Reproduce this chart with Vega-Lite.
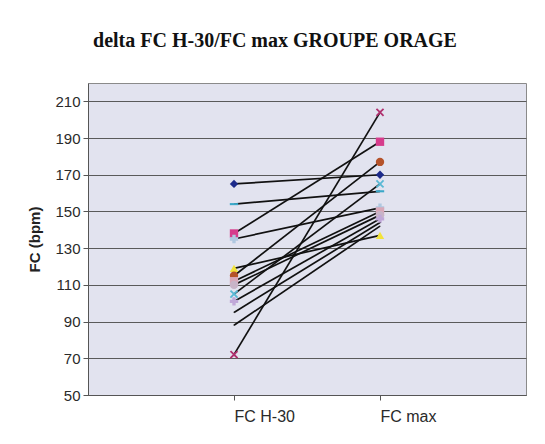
{
  "$schema": "https://vega.github.io/schema/vega-lite/v6.json",
  "width": 438,
  "height": 312,
  "autosize": {"type": "none"},
  "padding": {"left": 88, "top": 83, "right": 19, "bottom": 49},
  "background": "white",
  "title": {
    "text": "delta FC H-30/FC max GROUPE ORAGE",
    "font": "Liberation Serif",
    "fontSize": 20,
    "fontWeight": "bold",
    "color": "#111",
    "anchor": "middle",
    "dx": -32,
    "offset": 32
  },
  "config": {
    "view": {"stroke": "#8a8a8a", "fill": "#e2e3ef"},
    "axis": {"labelFont": "Liberation Sans", "titleFont": "Liberation Sans"}
  },
  "data": {
    "values": [
      {"s": "A", "cat": "FC H-30", "fc": 165}, {"s": "A", "cat": "FC max", "fc": 170},
      {"s": "B", "cat": "FC H-30", "fc": 154}, {"s": "B", "cat": "FC max", "fc": 161},
      {"s": "C", "cat": "FC H-30", "fc": 138}, {"s": "C", "cat": "FC max", "fc": 188},
      {"s": "D", "cat": "FC H-30", "fc": 135}, {"s": "D", "cat": "FC max", "fc": 152},
      {"s": "E", "cat": "FC H-30", "fc": 119}, {"s": "E", "cat": "FC max", "fc": 137},
      {"s": "F", "cat": "FC H-30", "fc": 115}, {"s": "F", "cat": "FC max", "fc": 177},
      {"s": "G", "cat": "FC H-30", "fc": 112}, {"s": "G", "cat": "FC max", "fc": 150},
      {"s": "H", "cat": "FC H-30", "fc": 110}, {"s": "H", "cat": "FC max", "fc": 148},
      {"s": "I", "cat": "FC H-30", "fc": 105}, {"s": "I", "cat": "FC max", "fc": 165},
      {"s": "J", "cat": "FC H-30", "fc": 101}, {"s": "J", "cat": "FC max", "fc": 146},
      {"s": "K", "cat": "FC H-30", "fc": 95}, {"s": "K", "cat": "FC max", "fc": 144},
      {"s": "L", "cat": "FC H-30", "fc": 88}, {"s": "L", "cat": "FC max", "fc": 142},
      {"s": "M", "cat": "FC H-30", "fc": 72}, {"s": "M", "cat": "FC max", "fc": 204}
    ]
  },
  "encoding": {
    "x": {
      "field": "cat",
      "type": "nominal",
      "scale": {"type": "point", "padding": 1},
      "axis": {
        "title": null,
        "labelAngle": 0,
        "labelAlign": "left",
        "labelDx": -3,
        "labelFontSize": 16,
        "labelColor": "#2a2a2a",
        "labelPadding": 8,
        "tickSize": 5,
        "tickColor": "#555",
        "domainColor": "#555",
        "grid": false
      }
    },
    "y": {
      "field": "fc",
      "type": "quantitative",
      "scale": {"domain": [50, 220], "nice": false, "zero": false},
      "axis": {
        "title": "FC (bpm)",
        "titleFontSize": 15,
        "titleFontWeight": "bold",
        "titleColor": "#222",
        "titlePadding": 12,
        "values": [50, 70, 90, 110, 130, 150, 170, 190, 210],
        "labelFontSize": 15,
        "labelColor": "#2a2a2a",
        "labelPadding": 3,
        "tickSize": 5,
        "tickColor": "#555",
        "domainColor": "#555",
        "gridColor": "#5a5a5a",
        "gridWidth": 1.2
      }
    }
  },
  "layer": [
    {
      "mark": {"type": "line", "color": "#111", "strokeWidth": 1.7},
      "encoding": {"detail": {"field": "s"}}
    },
    {
      "mark": {"type": "point", "filled": true, "size": 70, "opacity": 1},
      "encoding": {
        "color": {
          "field": "s",
          "type": "nominal",
          "legend": null,
          "scale": {
            "domain": ["A","B","C","D","E","F","G","H","I","J","K","L","M"],
            "range": ["#1c2a8a","#3aa8c8","#d63c8c","#b0c8e0","#f2e33a","#b5532a","#d8a8b8","#c8b4c8","#58b8d4","#c0a8d8","#333333","#333333","#b0306e"]
          }
        },
        "shape": {
          "field": "s",
          "type": "nominal",
          "legend": null,
          "scale": {
            "domain": ["A","B","C","D","E","F","G","H","I","J","K","L","M"],
            "range": [
              "diamond",
              "M-1,-0.25H1V0.25H-1Z",
              "square",
              "cross",
              "triangle-up",
              "circle",
              "square",
              "circle",
              "M-1,-0.7L-0.7,-1L0,-0.3L0.7,-1L1,-0.7L0.3,0L1,0.7L0.7,1L0,0.3L-0.7,1L-1,0.7L-0.3,0Z",
              "cross",
              "M-0.1,-0.1H0.1V0.1H-0.1Z",
              "M-0.1,-0.1H0.1V0.1H-0.1Z",
              "M-1,-0.7L-0.7,-1L0,-0.3L0.7,-1L1,-0.7L0.3,0L1,0.7L0.7,1L0,0.3L-0.7,1L-1,0.7L-0.3,0Z"
            ]
          }
        }
      }
    }
  ]
}
